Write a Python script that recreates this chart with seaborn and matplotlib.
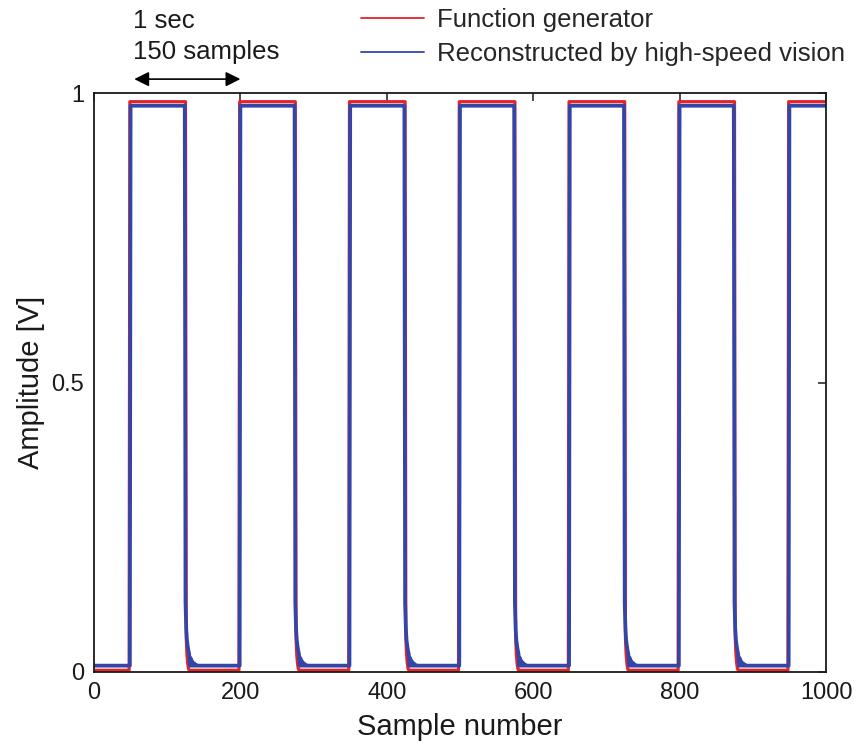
import numpy as np
import pandas as pd
import matplotlib
matplotlib.use("Agg")
import matplotlib.pyplot as plt
from matplotlib.lines import Line2D
import seaborn as sns

# ---------------- data ----------------
n_samples = 1001
red_rise = [49, 199, 349, 499, 649, 799, 949]
red_fall = [126, 276, 426, 576, 726, 876]
blue_rise = [50, 200, 350, 500, 650, 800, 950]
blue_fall = [125, 275, 425, 575, 725, 875]
red_high, red_low = 0.985, 0.003
blue_high, blue_low = 0.978, 0.011
red_tail_offsets = [0, 1, 2, 3]
red_tail_values = [0.06, 0.03, 0.015, 0.006]
blue_tail_offsets = [0, 1, 2, 3, 4, 5, 7, 9, 12, 15]
blue_tail_values = [0.12, 0.075, 0.055, 0.045, 0.037, 0.031, 0.024, 0.019, 0.015, 0.012]

x_ticks = [0, 200, 400, 600, 800, 1000]
y_ticks = [0, 0.5, 1]
y_tick_labels = ["0", "0.5", "1"]
series_names = ["Function generator", "Reconstructed by high-speed vision"]
arrow_span = [55, 200]


def build(rises, falls, high, low, offs, vals):
    y = np.full(n_samples, low, dtype=float)
    for r in rises:
        f = next((f for f in falls if f > r), n_samples)
        y[r:f] = high
        for o, v in zip(offs, vals):
            if f + o < n_samples:
                y[f + o] = v
    return y


samples = np.arange(n_samples)
red = build(red_rise, red_fall, red_high, red_low, red_tail_offsets, red_tail_values)
blue = build(blue_rise, blue_fall, blue_high, blue_low, blue_tail_offsets, blue_tail_values)
df = pd.DataFrame({"sample": samples, "red": red, "blue": blue})

# ---------------- style ----------------
sns.set_style("white")
plt.rcParams["font.family"] = ["Liberation Sans", "DejaVu Sans"]

RED = "#e3242b"
BLUE = "#3346a8"
INK = "#1a1a1a"

fig = plt.figure(figsize=(8.63, 7.45), dpi=100)
ax = fig.add_axes([94 / 863, 73 / 745, (826 - 94) / 863, (672 - 93) / 745])

sns.lineplot(data=df, x="sample", y="red", color=RED, linewidth=2.3, ax=ax)
sns.lineplot(data=df, x="sample", y="blue", color=BLUE, linewidth=2.7, ax=ax)

ax.set_xlim(0, 1000)
ax.set_ylim(0, 1)
ax.set_xticks(x_ticks)
ax.set_xticklabels([str(t) for t in x_ticks])
ax.set_yticks(y_ticks)
ax.set_yticklabels(y_tick_labels)
ax.tick_params(direction="in", top=True, right=True, length=6, width=1.1,
               labelsize=17, pad=7, colors=INK)
for s in ax.spines.values():
    s.set_linewidth(1.3)
    s.set_color(INK)

ax.set_xlabel("Sample number", fontsize=21, labelpad=7, color=INK)
ax.set_ylabel("Amplitude [V]", fontsize=21, labelpad=5, color=INK)

# annotation: 1 sec / 150 samples with double arrow
ax.text(53, 1.112, "1 sec", fontsize=18.5, va="baseline", ha="left",
        clip_on=False, color=INK)
ax.text(53, 1.058, "150 samples", fontsize=18.5, va="baseline", ha="left",
        clip_on=False, color=INK)
ax.annotate("", xy=(arrow_span[0], 1.024), xytext=(arrow_span[1], 1.024),
            xycoords="data", textcoords="data", annotation_clip=False,
            arrowprops=dict(arrowstyle="<|-|>", color="black", lw=1.2,
                            mutation_scale=22, shrinkA=0, shrinkB=0))

handles = [Line2D([], [], color=RED, lw=1.3), Line2D([], [], color=BLUE, lw=1.3)]
ax.legend(handles, series_names, loc="upper left",
          bbox_to_anchor=(361 / 863, 1 - 8 / 745), bbox_transform=fig.transFigure,
          frameon=False, fontsize=18.5, handlelength=2.45, handletextpad=0.5,
          borderpad=0, borderaxespad=0, labelspacing=0.4)

fig.savefig("out.png", dpi=100)
